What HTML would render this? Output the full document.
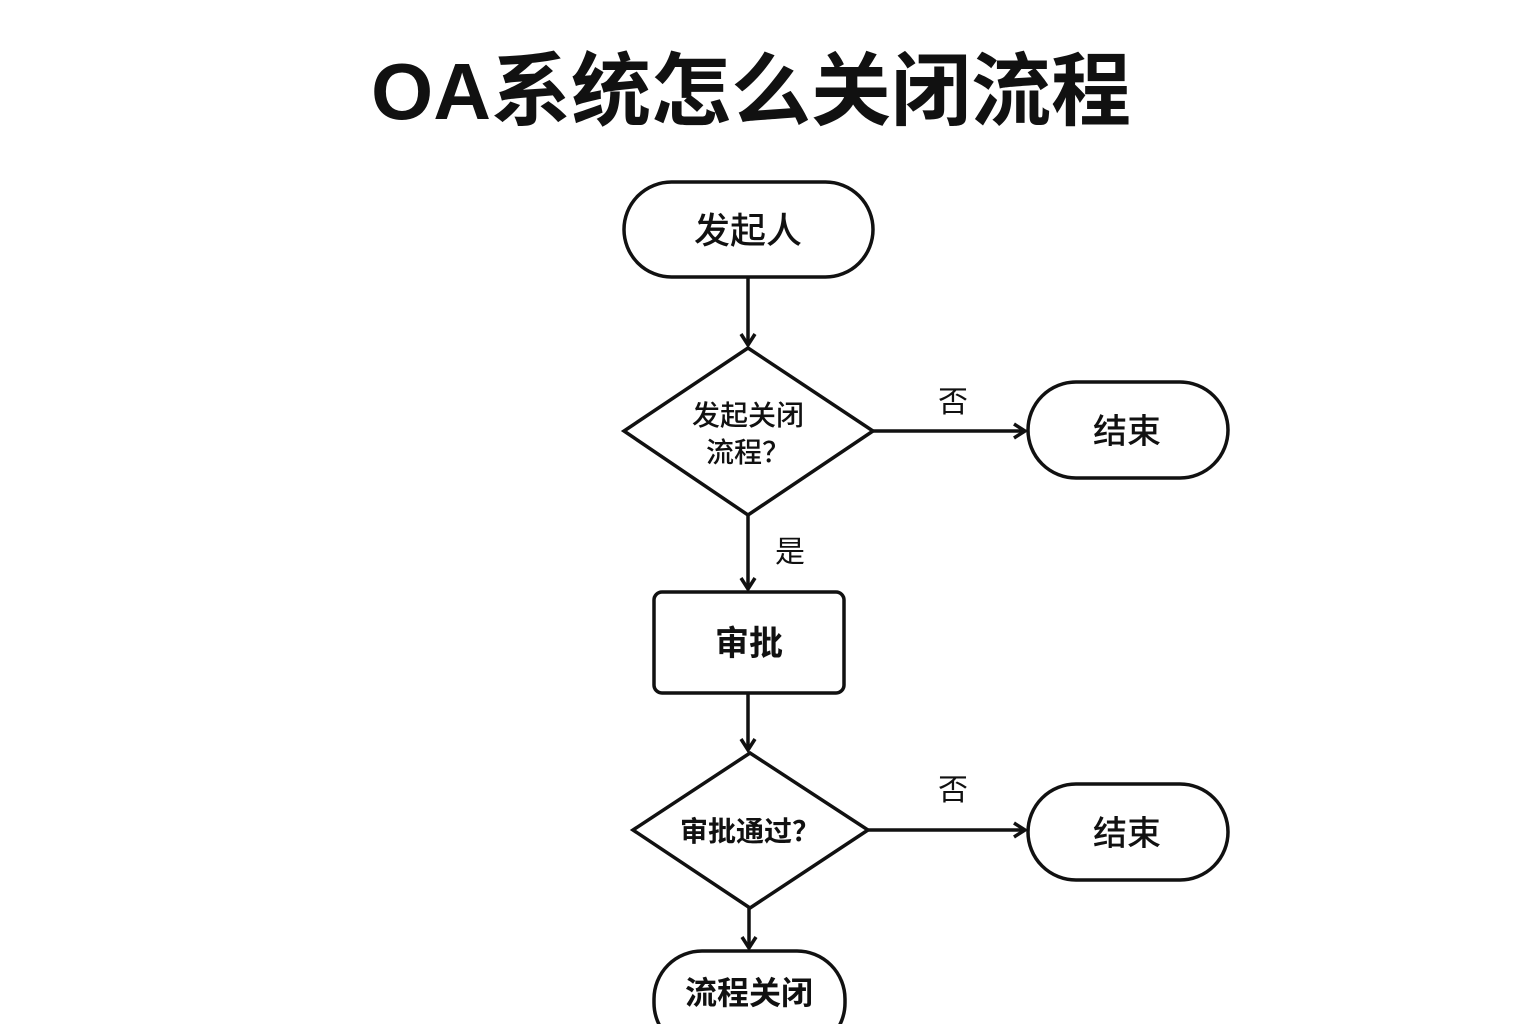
<!DOCTYPE html>
<html><head><meta charset="utf-8"><style>
html,body{margin:0;padding:0;background:#fff;width:1536px;height:1024px;overflow:hidden}
svg{display:block}
text{font-family:"Liberation Sans","Noto Sans CJK SC",sans-serif;fill:#111;text-anchor:middle}
</style></head><body>
<svg width="1536" height="1024" viewBox="0 0 1536 1024">
<text x="751" y="119" font-size="80" font-weight="bold">OA系统怎么关闭流程</text>
<g fill="none" stroke="#111" stroke-width="3.5" stroke-linejoin="miter">
<rect x="624" y="182" width="249" height="95" rx="47.5" fill="#fff"/>
<polygon points="748,348 873,431 748,515 624,431" fill="#fff"/>
<rect x="1028" y="382" width="200" height="96" rx="48" fill="#fff"/>
<rect x="654" y="592" width="190" height="101" rx="8" fill="#fff"/>
<polygon points="750,753 868,830 750,908 633,830" fill="#fff"/>
<rect x="1028" y="784" width="200" height="96" rx="48" fill="#fff"/>
<rect x="654" y="951" width="191" height="100" rx="48" fill="#fff"/>
<line x1="748" y1="277" x2="748" y2="345"/>
<polyline points="741,334 748,345 755,334"/>
<line x1="873" y1="431" x2="1025" y2="431"/>
<polyline points="1014,424 1025,431 1014,438"/>
<line x1="748" y1="515" x2="748" y2="589"/>
<polyline points="741,578 748,589 755,578"/>
<line x1="748" y1="693" x2="748" y2="750"/>
<polyline points="741,739 748,750 755,739"/>
<line x1="868" y1="830" x2="1025" y2="830"/>
<polyline points="1014,823 1025,830 1014,837"/>
<line x1="749" y1="908" x2="749" y2="948"/>
<polyline points="742,937 749,948 756,937"/>
</g>
<text x="748" y="243" font-size="36" font-weight="500">发起人</text>
<text x="748" y="425" font-size="28" font-weight="500">发起关闭</text>
<text x="748" y="462" font-size="28" font-weight="500">流程？</text>
<text x="953" y="412" font-size="30">否</text>
<text x="1127" y="443" font-size="34" font-weight="500">结束</text>
<text x="790" y="562" font-size="30">是</text>
<text x="749" y="655" font-size="34" font-weight="bold">审批</text>
<text x="750" y="841" font-size="28" font-weight="bold">审批通过？</text>
<text x="953" y="800" font-size="30">否</text>
<text x="1127" y="845" font-size="34" font-weight="500">结束</text>
<text x="749" y="1004" font-size="32" font-weight="bold">流程关闭</text>
</svg>
</body></html>
